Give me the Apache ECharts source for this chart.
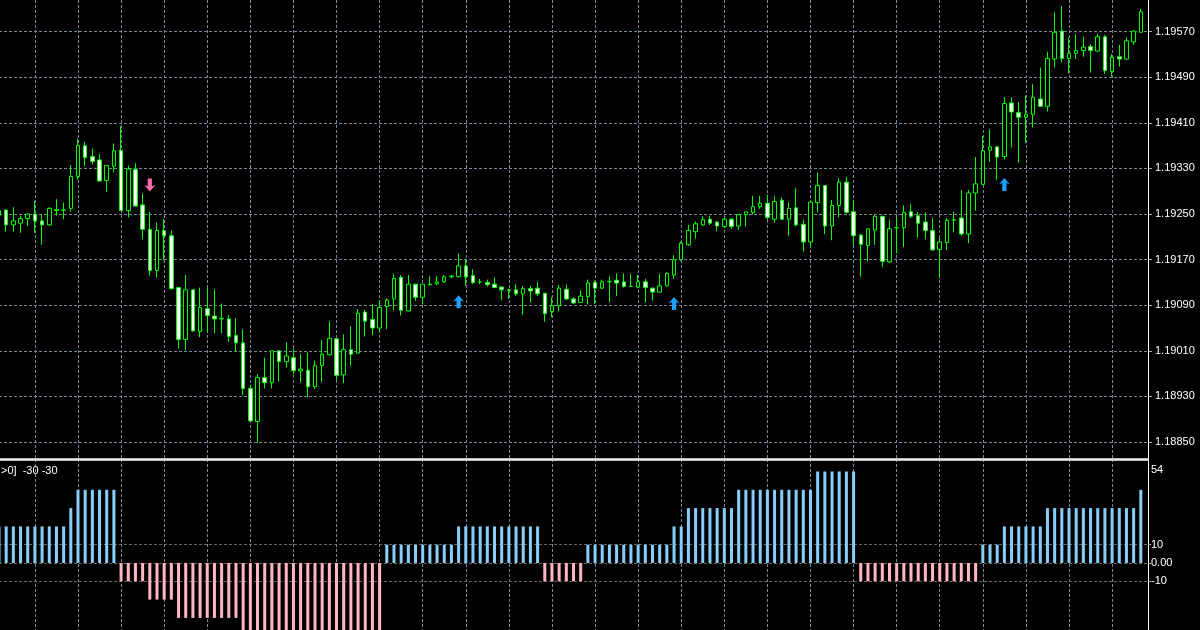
<!DOCTYPE html>
<html><head><meta charset="utf-8">
<script src="https://cdn.jsdelivr.net/npm/echarts@6/dist/echarts.min.js"></script>
<style>html,body{margin:0;padding:0;background:#000;}#c{width:1200px;height:630px;}</style>
</head><body><div id="c"></div>
<script>
const opens = [
1.19248,1.19257,1.19231,1.19234,1.19242,1.19250,1.19238,1.19231,1.19256,1.19257,
1.19260,1.19316,1.19370,1.19351,1.19345,1.19309,1.19334,1.19362,1.19256,1.19328,
1.19266,1.19223,1.19151,1.19221,1.19212,1.19121,1.19030,1.19117,1.19044,1.19084,
1.19071,1.19066,1.19066,1.19037,1.19024,1.18944,1.18886,1.18963,1.18954,1.19010,
1.18991,1.18998,1.18975,1.18976,1.18947,1.18984,1.19003,1.19031,1.18968,1.19012,
1.19006,1.19078,1.19065,1.19050,1.19088,1.19101,1.19139,1.19080,1.19127,1.19104,
1.19127,1.19128,1.19131,1.19140,1.19140,1.19159,1.19142,1.19131,1.19130,1.19127,
1.19122,1.19117,1.19117,1.19110,1.19119,1.19120,1.19111,1.19079,1.19089,1.19118,
1.19101,1.19095,1.19105,1.19130,1.19120,1.19131,1.19134,1.19131,1.19123,1.19122,
1.19131,1.19120,1.19113,1.19124,1.19143,1.19170,1.19196,1.19219,1.19231,1.19241,
1.19236,1.19228,1.19241,1.19229,1.19249,1.19253,1.19263,1.19269,1.19241,1.19274,
1.19241,1.19261,1.19232,1.19201,1.19270,1.19300,1.19229,1.19265,1.19306,1.19254,
1.19213,1.19195,1.19222,1.19246,1.19166,1.19226,1.19226,1.19254,1.19247,1.19236,
1.19221,1.19188,1.19200,1.19239,1.19243,1.19215,1.19287,1.19302,1.19362,1.19368,
1.19351,1.19445,1.19428,1.19420,1.19425,1.19452,1.19439,1.19522,1.19571,1.19523,
1.19532,1.19537,1.19544,1.19536,1.19561,1.19500,1.19526,1.19522,1.19552,1.19569];
const highs = [
1.19258,1.19258,1.19262,1.19247,1.19251,1.19273,1.19250,1.19262,1.19276,1.19270,
1.19336,1.19382,1.19377,1.19365,1.19355,1.19335,1.19374,1.19404,1.19335,1.19339,
1.19286,1.19254,1.19235,1.19241,1.19221,1.19121,1.19143,1.19117,1.19121,1.19121,
1.19118,1.19093,1.19073,1.19067,1.19048,1.18950,1.18969,1.18998,1.19010,1.19010,
1.19025,1.19014,1.19004,1.19007,1.18993,1.19029,1.19062,1.19031,1.19039,1.19053,
1.19083,1.19082,1.19092,1.19098,1.19102,1.19145,1.19143,1.19143,1.19127,1.19127,
1.19141,1.19141,1.19143,1.19143,1.19181,1.19171,1.19153,1.19136,1.19135,1.19139,
1.19123,1.19119,1.19127,1.19124,1.19124,1.19131,1.19111,1.19104,1.19126,1.19126,
1.19104,1.19116,1.19135,1.19133,1.19135,1.19141,1.19146,1.19146,1.19145,1.19143,
1.19136,1.19121,1.19145,1.19148,1.19178,1.19202,1.19231,1.19237,1.19246,1.19247,
1.19238,1.19243,1.19243,1.19250,1.19254,1.19282,1.19282,1.19284,1.19282,1.19279,
1.19270,1.19295,1.19240,1.19272,1.19323,1.19300,1.19275,1.19313,1.19315,1.19275,
1.19215,1.19225,1.19249,1.19247,1.19240,1.19244,1.19265,1.19268,1.19254,1.19253,
1.19243,1.19208,1.19243,1.19254,1.19292,1.19292,1.19350,1.19387,1.19399,1.19368,
1.19455,1.19455,1.19446,1.19458,1.19478,1.19507,1.19535,1.19604,1.19615,1.19560,
1.19565,1.19561,1.19548,1.19566,1.19564,1.19531,1.19547,1.19560,1.19572,1.19610];
const lows = [
1.19245,1.19219,1.19219,1.19217,1.19229,1.19217,1.19196,1.19229,1.19247,1.19241,
1.19254,1.19310,1.19334,1.19337,1.19307,1.19289,1.19323,1.19256,1.19244,1.19264,
1.19206,1.19142,1.19139,1.19169,1.19118,1.19014,1.19011,1.19043,1.19034,1.19042,
1.19041,1.19041,1.19026,1.19008,1.18932,1.18886,1.18848,1.18944,1.18944,1.18956,
1.18981,1.18969,1.18954,1.18929,1.18943,1.18955,1.19002,1.18959,1.18953,1.18984,
1.19006,1.19035,1.19037,1.19044,1.19048,1.19081,1.19072,1.19079,1.19098,1.19091,
1.19125,1.19125,1.19129,1.19137,1.19139,1.19124,1.19127,1.19127,1.19123,1.19120,
1.19099,1.19101,1.19106,1.19073,1.19095,1.19106,1.19061,1.19069,1.19079,1.19099,
1.19092,1.19094,1.19091,1.19092,1.19118,1.19095,1.19106,1.19121,1.19122,1.19120,
1.19095,1.19098,1.19112,1.19123,1.19136,1.19168,1.19194,1.19207,1.19229,1.19231,
1.19220,1.19225,1.19224,1.19222,1.19228,1.19249,1.19259,1.19240,1.19235,1.19240,
1.19212,1.19228,1.19184,1.19192,1.19253,1.19215,1.19204,1.19244,1.19251,1.19195,
1.19140,1.19167,1.19196,1.19157,1.19164,1.19181,1.19192,1.19243,1.19209,1.19206,
1.19186,1.19138,1.19187,1.19218,1.19212,1.19199,1.19256,1.19301,1.19342,1.19310,
1.19346,1.19367,1.19340,1.19375,1.19402,1.19439,1.19430,1.19507,1.19516,1.19497,
1.19522,1.19526,1.19498,1.19535,1.19496,1.19491,1.19509,1.19521,1.19547,1.19568];
const closes = [
1.19256,1.19231,1.19238,1.19242,1.19250,1.19238,1.19231,1.19260,1.19258,1.19257,
1.19316,1.19370,1.19349,1.19342,1.19308,1.19335,1.19361,1.19256,1.19329,1.19264,
1.19223,1.19151,1.19221,1.19212,1.19119,1.19030,1.19117,1.19045,1.19086,1.19072,
1.19066,1.19067,1.19035,1.19024,1.18944,1.18887,1.18963,1.18954,1.19010,1.18991,
1.19001,1.18975,1.18978,1.18947,1.18984,1.19004,1.19032,1.18967,1.19012,1.19004,
1.19076,1.19062,1.19050,1.19086,1.19099,1.19137,1.19081,1.19127,1.19104,1.19127,
1.19126,1.19131,1.19140,1.19141,1.19159,1.19140,1.19130,1.19131,1.19126,1.19121,
1.19117,1.19116,1.19110,1.19119,1.19115,1.19110,1.19075,1.19089,1.19120,1.19101,
1.19094,1.19106,1.19129,1.19120,1.19131,1.19132,1.19129,1.19123,1.19123,1.19131,
1.19121,1.19113,1.19124,1.19146,1.19170,1.19199,1.19221,1.19233,1.19240,1.19234,
1.19229,1.19241,1.19228,1.19249,1.19254,1.19263,1.19269,1.19244,1.19272,1.19241,
1.19260,1.19231,1.19201,1.19271,1.19300,1.19229,1.19265,1.19306,1.19253,1.19212,
1.19197,1.19224,1.19246,1.19167,1.19224,1.19226,1.19253,1.19246,1.19234,1.19221,
1.19187,1.19201,1.19239,1.19240,1.19215,1.19287,1.19303,1.19361,1.19368,1.19350,
1.19444,1.19429,1.19420,1.19425,1.19455,1.19439,1.19523,1.19569,1.19523,1.19532,
1.19537,1.19543,1.19537,1.19561,1.19502,1.19525,1.19522,1.19554,1.19571,1.19605];
const histValues = [
20,20,20,20,20,20,20,20,20,20,
30,40,40,40,40,40,40,-10,-10,-10,
-10,-20,-20,-20,-20,-30,-30,-30,-30,-30,
-30,-30,-30,-30,-40,-40,-40,-40,-40,-40,
-40,-40,-40,-40,-40,-40,-40,-40,-40,-40,
-40,-40,-40,-40,10,10,10,10,10,10,
10,10,10,10,20,20,20,20,20,20,
20,20,20,20,20,20,-10,-10,-10,-10,
-10,-10,10,10,10,10,10,10,10,10,
10,10,10,10,20,20,30,30,30,30,
30,30,30,40,40,40,40,40,40,40,
40,40,40,40,50,50,50,50,50,50,
-10,-10,-10,-10,-10,-10,-10,-10,-10,-10,
-10,-10,-10,-10,-10,-10,-10,10,10,10,
20,20,20,20,20,20,30,30,30,30,
30,30,30,30,30,30,30,30,30,40];
const priceTicks = [1.18850,1.18930,1.19010,1.19090,1.19170,1.19250,1.19330,1.19410,1.19490,1.19570];
const histTicks = [10, 0, -10];
const histLabels = [54, 10, 0, -10];
const upArrows = [[64, 1.19096], [94, 1.19093], [140, 1.19302]];
const downArrows = [[21, 1.19301]];
const indicatorText = '>0]  -30 -30';

const categories = [];
for (let i = 0; i <= opens.length; i++) categories.push(String(i));
const candleData = opens.map((o, i) => [o, closes[i], lows[i], highs[i]]);

const gridColor = '#778899';
const FONT = 'Liberation Sans';
const vInterval = (idx) => idx % 6 === 5;
const arrowPath = 'path://M5.5,0 L11,6.5 L7.6,5.2 L7.6,13 L3.4,13 L3.4,5.2 L0,6.5 Z';

const chart = echarts.init(document.getElementById('c'), null, {renderer: 'canvas'});
const xCommon = {
  type: 'category', data: categories, boundaryGap: false,
  axisLine: {show: false}, axisTick: {show: false}, axisLabel: {show: false},
  splitLine: {show: true, interval: vInterval, lineStyle: {color: gridColor, width: 1, type: [3, 2]}}
};
chart.setOption({
  backgroundColor: '#000',
  animation: false,
  grid: [
    {left: -1, right: 52, top: 0, height: 459, containLabel: false, outerBoundsMode: 'none'},
    {left: -1, right: 52, top: 459, bottom: 0, containLabel: false, outerBoundsMode: 'none'}
  ],
  xAxis: [
    Object.assign({gridIndex: 0}, xCommon),
    Object.assign({gridIndex: 1}, xCommon)
  ],
  yAxis: [
    {
      type: 'value', gridIndex: 0, position: 'right',
      min: 1.1882017, max: 1.196256,
      axisLine: {show: true, lineStyle: {color: '#ffffff', width: 1}},
      axisTick: {show: true, customValues: priceTicks, length: 4, lineStyle: {color: '#b0b0b0'}},
      axisLabel: {show: true, customValues: priceTicks, formatter: v => v.toFixed(5),
        color: '#ffffff', fontFamily: FONT, fontSize: 11, margin: 7},
      splitLine: {show: true, lineStyle: {color: gridColor, width: 1, type: [3, 2]}}
    },
    {
      type: 'value', gridIndex: 1, position: 'right',
      min: -36.61, max: 56.83,
      axisLine: {show: true, lineStyle: {color: '#ffffff', width: 1}},
      axisTick: {show: true, customValues: histTicks, length: 3, lineStyle: {color: '#b0b0b0'}},
      axisLabel: {show: true, customValues: histLabels,
        formatter: v => v === 0 ? '0.00' : (v === 54 ? '{t|54}' : String(v)),
        rich: {t: {padding: [11, 0, 0, 0], color: '#ffffff', fontFamily: FONT, fontSize: 11}},
        color: '#ffffff', fontFamily: FONT, fontSize: 11, margin: 3},
      splitLine: {show: true, lineStyle: {color: '#666666', width: 1, type: [3, 2]}}
    }
  ],
  series: [
    {
      type: 'candlestick', xAxisIndex: 0, yAxisIndex: 0, data: candleData,
      barWidth: 4, z: 3,
      itemStyle: {color: '#000000', color0: '#ffffff', borderColor: '#00ff00', borderColor0: '#00ff00',
        borderColorDoji: '#00ff00', borderWidth: 1}
    },
    {
      type: 'scatter', xAxisIndex: 0, yAxisIndex: 0, data: upArrows, z: 5,
      symbol: arrowPath, symbolSize: [11, 13],
      itemStyle: {color: '#1E9EFF', opacity: 1}
    },
    {
      type: 'scatter', xAxisIndex: 0, yAxisIndex: 0, data: downArrows, z: 5,
      symbol: arrowPath, symbolSize: [11, 13], symbolRotate: 180,
      itemStyle: {color: '#FF69B4', opacity: 1}
    },
    {
      type: 'bar', xAxisIndex: 1, yAxisIndex: 1, data: histValues, barWidth: 3, z: 3,
      itemStyle: {color: p => p.value >= 0 ? '#87CEFA' : '#FFB6C1'}
    }
  ],
  graphic: [
    {type: 'rect', z: 100, shape: {x: 0, y: 458, width: 1149, height: 3}, style: {fill: '#bdbdbd'}},
    {type: 'rect', z: 101, shape: {x: 0, y: 459, width: 1149, height: 1}, style: {fill: '#e6e6e6'}},
    {type: 'text', z: 100, left: 1, top: 465, style: {text: indicatorText, fill: '#ffffff', font: '11px "Liberation Sans"'}}
  ]
});
</script>
</body></html>
